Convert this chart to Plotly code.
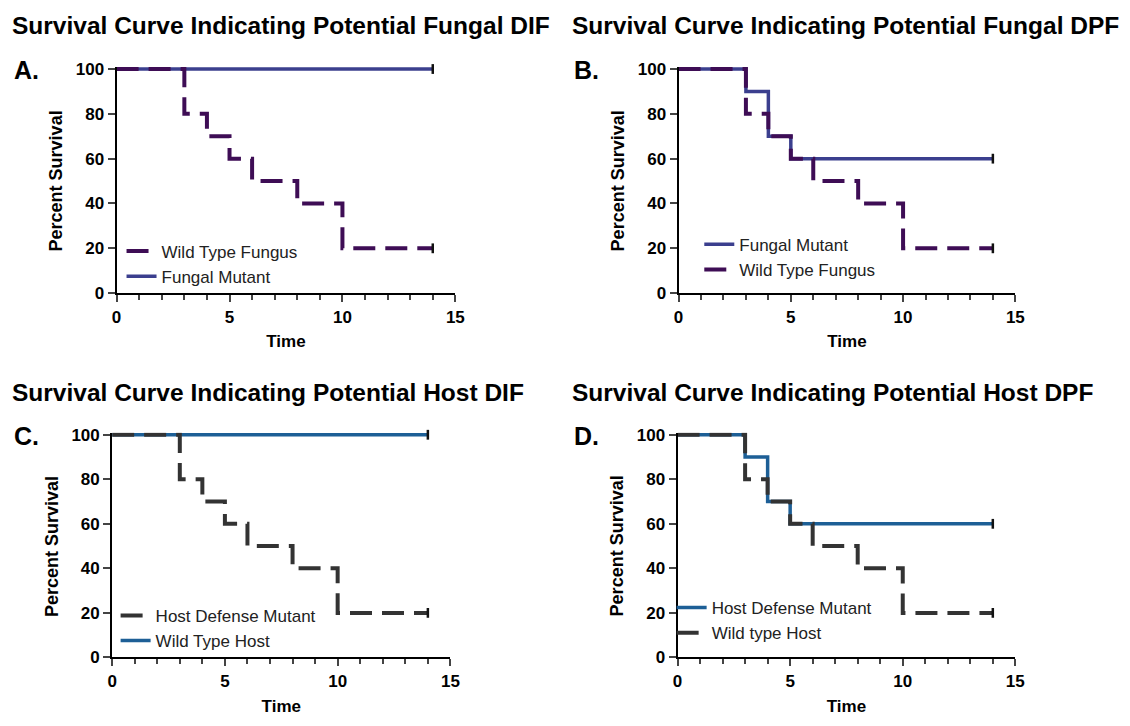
import plotly.graph_objects as go

# ---- data ----
time_wt = [0, 3, 4, 5, 6, 8, 10, 14]
surv_wt = [100, 80, 70, 60, 50, 40, 20, 20]
time_mut_dif = [0, 14]
surv_mut_dif = [100, 100]
time_mut_dpf = [0, 3, 4, 5, 14]
surv_mut_dpf = [100, 90, 70, 60, 60]

titles = ["Survival Curve Indicating Potential Fungal DIF",
          "Survival Curve Indicating Potential Fungal DPF",
          "Survival Curve Indicating Potential Host DIF",
          "Survival Curve Indicating Potential Host DPF"]
panel_letters = ["A.", "B.", "C.", "D."]
x_ticks = [0, 5, 10, 15]
y_ticks = [0, 20, 40, 60, 80, 100]

PURPLE = "#3e0d55"
NAVY = "#3b3f8e"
BLUE = "#1d5f96"
DARK = "#333333"
FONT = "Liberation Sans, Arial, sans-serif"

W, H = 1130, 726
# plot-area pixel boxes: x0, x15, y100, y0
boxes = [(113, 456, 63.5, 293), (682, 1023, 63.5, 293),
         (108.5, 451, 438, 666), (681, 1023, 438, 666)]

# panel definitions: (name, x, y, color, dashed, legendrank)
panels = [
    [("Fungal Mutant", time_mut_dif, surv_mut_dif, NAVY, False, 2),
     ("Wild Type Fungus", time_wt, surv_wt, PURPLE, True, 1)],
    [("Fungal Mutant", time_mut_dpf, surv_mut_dpf, NAVY, False, 1),
     ("Wild Type Fungus", time_wt, surv_wt, PURPLE, True, 2)],
    [("Wild Type Host", time_mut_dif, surv_mut_dif, BLUE, False, 2),
     ("Host Defense Mutant", time_wt, surv_wt, DARK, True, 1)],
    [("Host Defense Mutant", time_mut_dpf, surv_mut_dpf, BLUE, False, 1),
     ("Wild type Host", time_wt, surv_wt, DARK, True, 2)],
]
# legend positions (px): left x, top y, gap between items
legend_pos = [(118, 232, 1), (703, 225, 11), (112, 605, 4), (675, 597, 13)]

fig = go.Figure()
layout = dict(width=W, height=H, margin=dict(l=0, r=0, t=0, b=0),
              paper_bgcolor="white", plot_bgcolor="white",
              font=dict(family=FONT, color="black"))
annotations = []

for i, (box, traces) in enumerate(zip(boxes, panels)):
    n = "" if i == 0 else str(i + 1)
    xa, ya = "x" + n, "y" + n
    lg = "legend" if i == 0 else "legend" + str(i + 1)
    x0, x1, yt, yb = box
    dtop = yt - (yb - yt) / 100.0
    layout["xaxis" + n] = dict(
        domain=[x0 / W, x1 / W], anchor=ya, range=[0, 15],
        tickvals=x_ticks, ticks="outside", ticklen=7, tickwidth=2,
        showline=True, linewidth=2, linecolor="black", showgrid=False,
        zeroline=False, tickfont=dict(size=17, weight="bold"),
        minor=dict(dtick=1, ticks="outside", ticklen=5, tickwidth=2, showgrid=False),
        title=dict(text="<b>Time</b>", font=dict(size=17), standoff=10))
    layout["yaxis" + n] = dict(
        domain=[1 - yb / H, 1 - dtop / H], anchor=xa, range=[0, 101],
        tickvals=y_ticks, ticks="outside", ticklen=7, tickwidth=2,
        showline=True, linewidth=2, linecolor="black", showgrid=False,
        zeroline=False, tickfont=dict(size=17, weight="bold"))
    lx, ly, gap = legend_pos[i]
    layout[lg] = dict(x=lx / W, y=1 - ly / H, xanchor="left", yanchor="top",
                      bgcolor="rgba(0,0,0,0)", font=dict(size=17, color="#222"),
                      traceorder="normal", tracegroupgap=gap, itemwidth=30)
    for name, tx, ty, col, dashed, rank in traces:
        fig.add_trace(go.Scatter(
            x=tx, y=ty, mode="lines", line_shape="hv", name=name,
            line=dict(color=col, width=4 if dashed else 3.5,
                      dash="22px,10px" if dashed else "solid"),
            xaxis=xa, yaxis=ya, legend=lg, legendrank=rank,
            legendgroup=f"{i}-{name}"))
        fig.add_trace(go.Scatter(
            x=[tx[-1]], y=[ty[-1]], mode="markers", showlegend=False,
            marker=dict(symbol="line-ns", size=7, line=dict(width=2.5, color="#111")),
            xaxis=xa, yaxis=ya, cliponaxis=False, hoverinfo="skip"))
    tx_px = 5 if i % 2 == 0 else 572
    ty_px = 19 if i < 2 else 395
    annotations.append(dict(text="<b>" + titles[i] + "</b>", x=tx_px / W, y=1 - ty_px / H,
                            xref="paper", yref="paper", xanchor="left", yanchor="middle",
                            showarrow=False, font=dict(size=24.5)))
    annotations.append(dict(text="<b>" + panel_letters[i] + "</b>", x=(tx_px + 2) / W,
                            y=1 - (yt + 1) / H, xref="paper", yref="paper",
                            xanchor="left", yanchor="middle", showarrow=False,
                            font=dict(size=25)))
    annotations.append(dict(text="<b>Percent Survival</b>", x=(x0 - 61) / W,
                            y=1 - ((yt + yb) / 2) / H, xref="paper", yref="paper",
                            xanchor="center", yanchor="middle", textangle=-90,
                            showarrow=False, font=dict(size=18)))

layout["annotations"] = annotations
fig.update_layout(**layout)
fig.write_html("out.html", config={"displayModeBar": False},
               post_script="document.body.style.margin='0';document.body.style.overflow='hidden';")
